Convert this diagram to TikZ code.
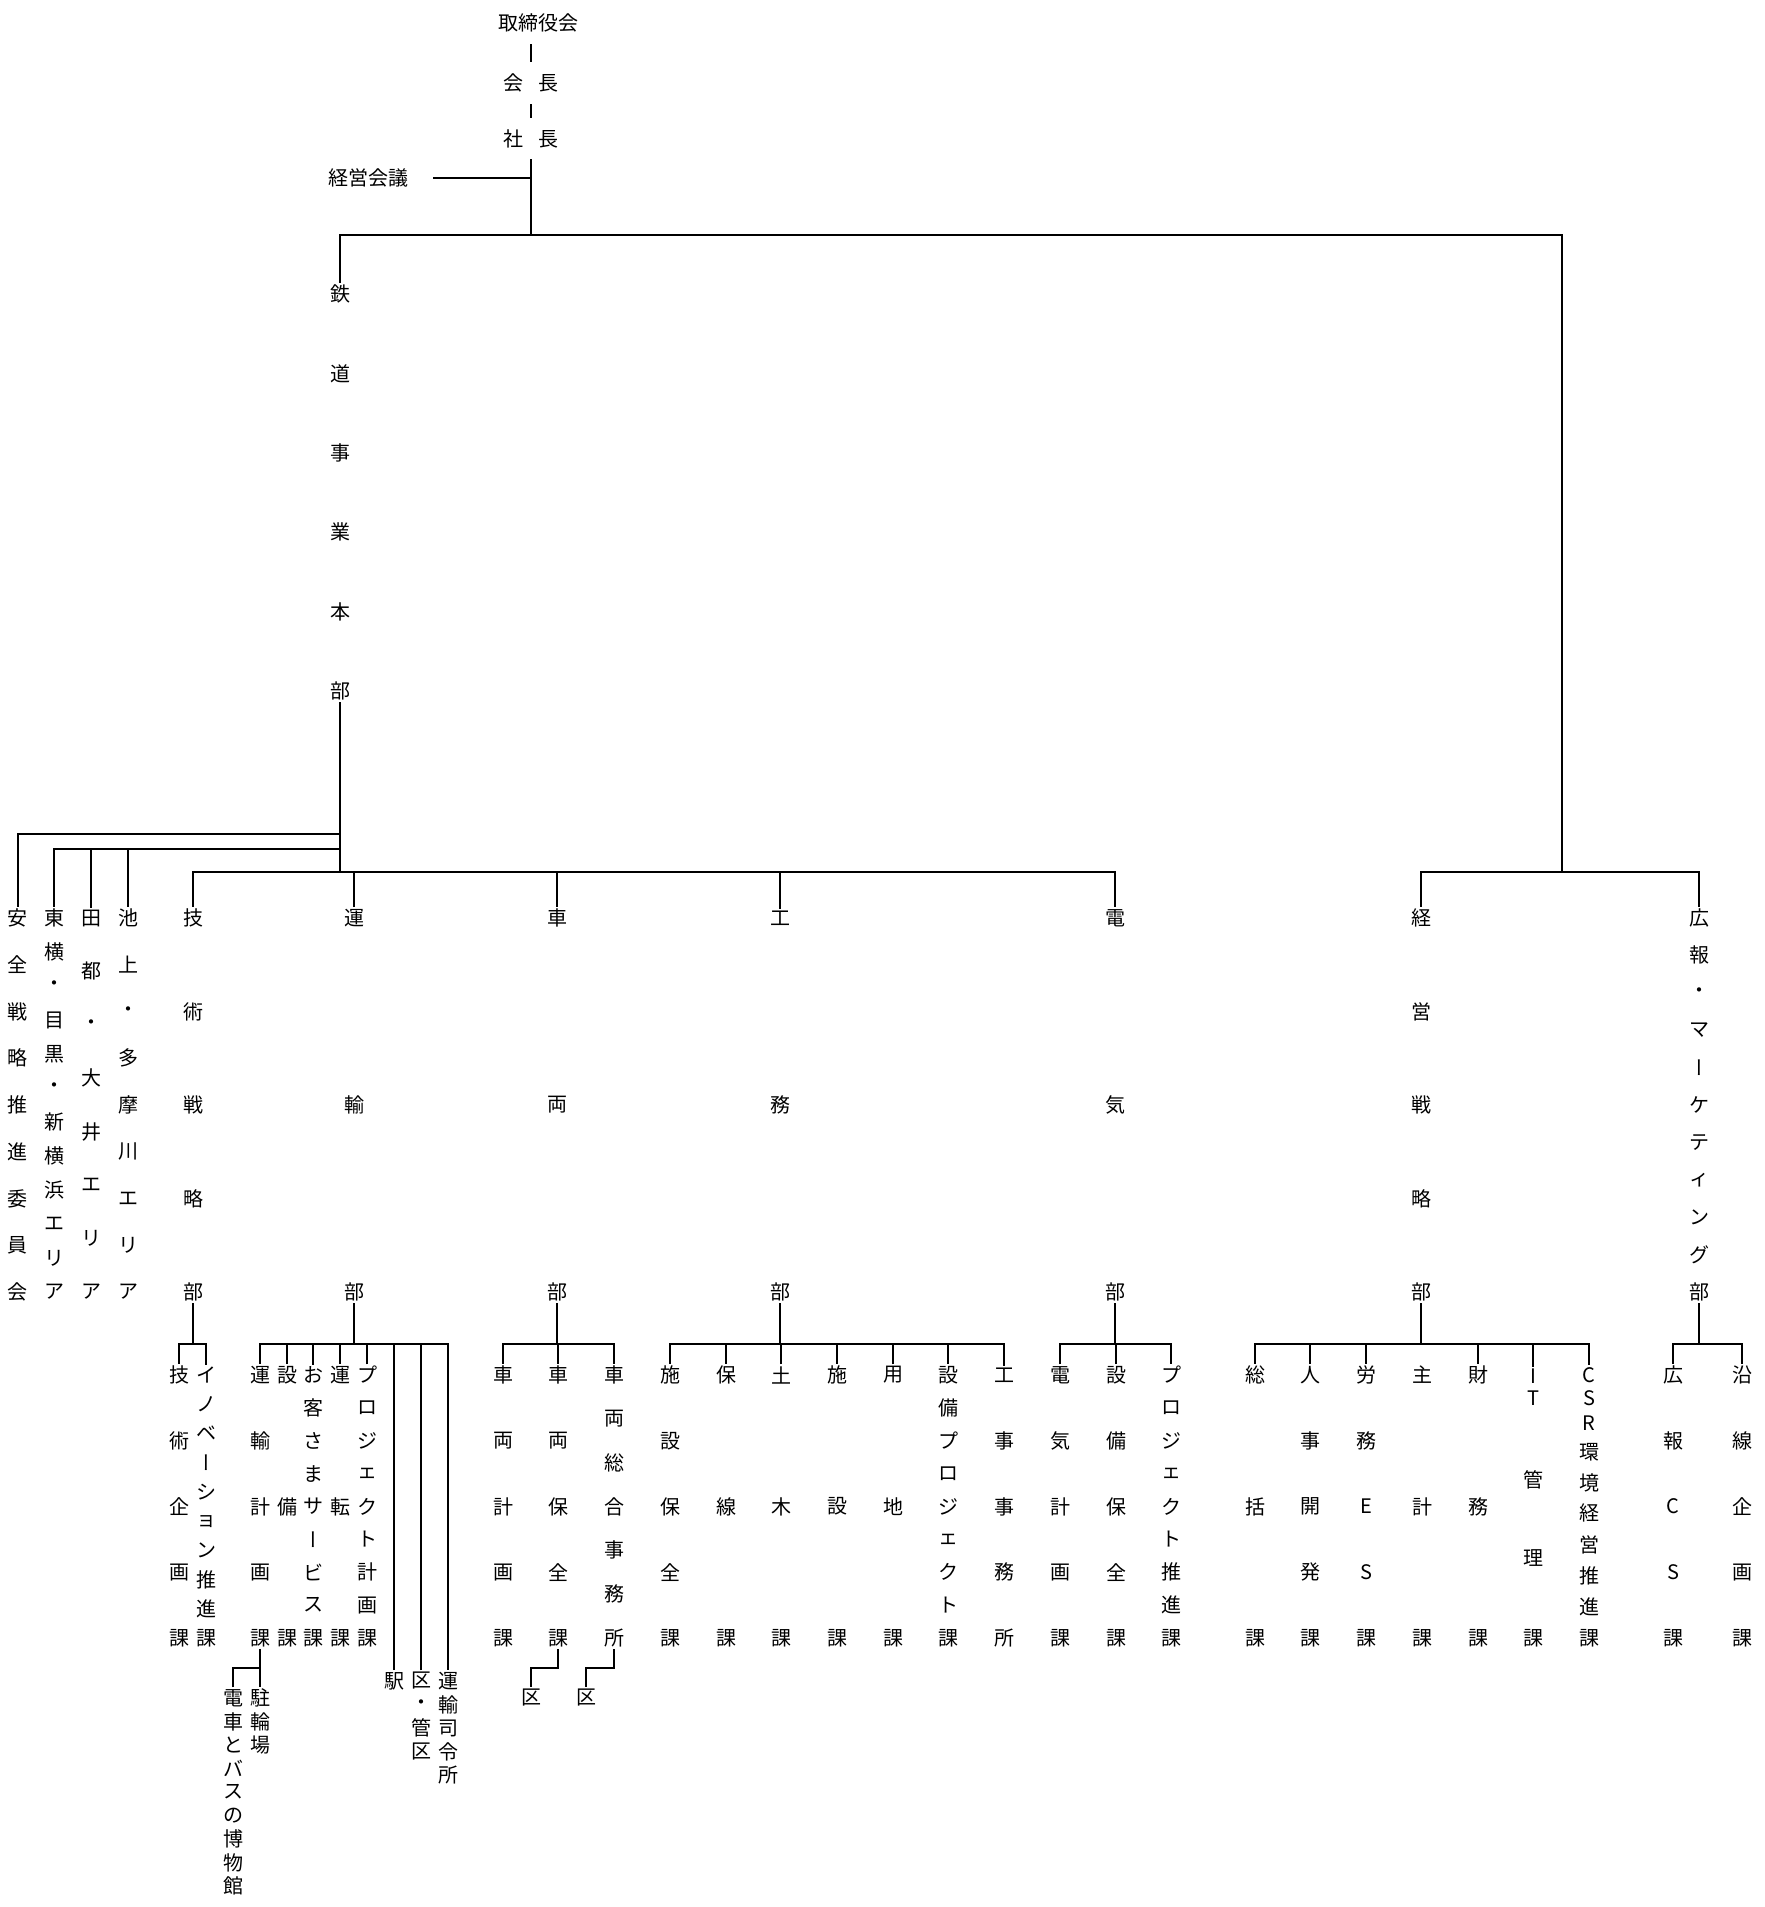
\documentclass[tikz,border=0pt]{standalone}
\usepackage{fontspec}
\setmainfont{Noto Sans CJK JP}
\newfontfamily\vfont[RawFeature=+vert]{Noto Sans CJK JP}
\newcommand\vbar{{\vfont ー}}
% evenly spread vertical text: name, x, ytop, ybottom, count, chars
\newcommand\vjust[6]{\foreach \ch [count=\ci] in {#6}{%
  \pgfmathsetmacro\yy{#3+(\ci-1)*(#4-#3)/(#5-1)}%
  \node[ch] (#1-\ci) at (#2,\yy) {\ch};}}
% vertical text with explicit positions: name, x, y/char list
\newcommand\vlist[3]{\foreach \yy/\ch [count=\ci] in {#3}{%
  \node[ch] (#1-\ci) at (#2,\yy) {\ch};}}
\begin{document}
\begin{tikzpicture}[x=0.5pt,y=-0.5pt,
  ch/.style={inner sep=0pt,outer sep=1pt,font=\fontsize{10pt}{12pt}\selectfont},
  ln/.style={line width=1pt}]
\useasboundingbox (0,0) rectangle (1765,1907);

% ---------- top ----------
\node[ch] (tori) at (538,23) {取締役会};
\node[ch] (kaicho) at (531,83) {会\hspace{7.5pt}長};
\node[ch] (shacho) at (531,139) {社\hspace{7.5pt}長};
\node[ch] (keiei) at (368,178) {経営会議};
\coordinate (jTop) at (531,235);
\coordinate (jR) at (1562,872);
\draw[ln,shorten <=5pt,shorten >=5pt] (kaicho.north |- tori.south) -- (kaicho.north);
\draw[ln,shorten <=5pt,shorten >=5pt] (kaicho.south) -- (shacho.north);
\draw[ln,shorten <=4.5pt] (shacho.south) -- (jTop);
\draw[ln,shorten <=11.5pt] (keiei.east) -- (keiei.east -| jTop);

% ---------- railway HQ ----------
\vjust{tetsudo}{340}{294}{691}{6}{鉄,道,事,業,本,部}
\draw[ln] (tetsudo-1.north) |- (jR |- jTop) -- (jR);

% ---------- level 2 ----------
\vjust{anzen}{18}{918}{1292}{9}{安,全,戦,略,推,進,委,員,会}
\vjust{toyoko}{54}{918}{1292}{12}{東,横,・,目,黒,・,新,横,浜,エ,リ,ア}
\vjust{dento}{91}{918}{1292}{8}{田,都,・,大,井,エ,リ,ア}
\vjust{ikegami}{128}{918}{1292}{9}{池,上,・,多,摩,川,エ,リ,ア}
\vjust{gijutsu}{193}{918}{1292}{5}{技,術,戦,略,部}
\vjust{unyu}{354}{918}{1292}{3}{運,輸,部}
\vjust{sharyo}{557}{918}{1292}{3}{車,両,部}
\vjust{komu}{780}{918}{1292}{3}{工,務,部}
\vjust{denki}{1115}{918}{1292}{3}{電,気,部}
\vjust{keisen}{1421}{918}{1292}{5}{経,営,戦,略,部}
\vjust{koho}{1699}{918}{1292}{11}{広,報,・,マ,\vbar,ケ,テ,ィ,ン,グ,部}

\coordinate (j2a) at (341,834);
\coordinate (j2b) at (340,849);
\coordinate (j2c) at (340,872);
\draw[ln] (tetsudo-6.south) -- (j2c);
\draw[ln] (anzen-1.north) |- (j2a);
\draw[ln] (toyoko-1.north) |- (j2b);
\draw[ln] (dento-1.north) -- (dento-1.north |- j2b);
\draw[ln] (ikegami-1.north) -- (ikegami-1.north |- j2b);
\draw[ln] (gijutsu-1.north) |- (denki-1.north |- j2c) -- (denki-1.north);
\draw[ln] (unyu-1.north) -- (unyu-1.north |- j2c);
\draw[ln] (sharyo-1.north) -- (sharyo-1.north |- j2c);
\draw[ln] (komu-1.north) -- (komu-1.north |- j2c);
\draw[ln] (keisen-1.north) |- (koho-1.north |- jR) -- (koho-1.north);

% ---------- level 3 ----------
\coordinate (r3) at (0,1344);
\coordinate (r4) at (0,1668);

% 技術戦略部
\vjust{gkikaku}{179}{1375}{1638}{5}{技,術,企,画,課}
\vjust{inov}{206}{1375}{1638}{10}{イ,ノ,ベ,\vbar,シ,ョ,ン,推,進,課}
\draw[ln] (gijutsu-5.south) -- (gijutsu-5.south |- r3);
\draw[ln] (gkikaku-1.north) |- (inov-1.north |- r3) -- (inov-1.north);

% 運輸部
\vjust{unkei}{260}{1375}{1638}{5}{運,輸,計,画,課}
\vjust{setsubi}{287}{1375}{1638}{3}{設,備,課}
\vjust{okyaku}{313}{1375}{1638}{9}{お,客,さ,ま,サ,\vbar,ビ,ス,課}
\vjust{unten}{340}{1375}{1638}{3}{運,転,課}
\vjust{ukeikaku}{367}{1375}{1638}{9}{プ,ロ,ジ,ェ,ク,ト,計,画,課}
\node[ch] (eki) at (394,1681) {駅};
\vjust{ku}{421}{1681}{1752}{4}{区,・,管,区}
\vjust{shirei}{448}{1681}{1775}{5}{運,輸,司,令,所}
\draw[ln] (unyu-3.south) -- (unyu-3.south |- r3);
\draw[ln] (unkei-1.north) |- (shirei-1.north |- r3) -- (shirei-1.north);
\draw[ln] (setsubi-1.north) -- (setsubi-1.north |- r3);
\draw[ln] (okyaku-1.north) -- (okyaku-1.north |- r3);
\draw[ln] (unten-1.north) -- (unten-1.north |- r3);
\draw[ln] (ukeikaku-1.north) -- (ukeikaku-1.north |- r3);
\draw[ln] (eki.north) -- (eki.north |- r3);
\draw[ln] (ku-1.north) -- (ku-1.north |- r3);

% 運輸計画課 sub
\vjust{hakubutsu}{233}{1698}{1886}{9}{電,車,と,バ,ス,の,博,物,館}
\vjust{churin}{260}{1698}{1745}{3}{駐,輪,場}
\draw[ln] (unkei-5.south) -- (unkei-5.south |- r4);
\draw[ln] (hakubutsu-1.north) |- (churin-1.north |- r4) -- (churin-1.north);

% 車両部
\vjust{skeikaku}{503}{1375}{1638}{5}{車,両,計,画,課}
\vjust{shozen}{558}{1375}{1638}{5}{車,両,保,全,課}
\vjust{ssogo}{614}{1375}{1638}{7}{車,両,総,合,事,務,所}
\node[ch] (kuA) at (531,1698) {区};
\node[ch] (kuB) at (586,1698) {区};
\draw[ln] (sharyo-3.south) -- (sharyo-3.south |- r3);
\draw[ln] (skeikaku-1.north) |- (ssogo-1.north |- r3) -- (ssogo-1.north);
\draw[ln] (shozen-1.north) -- (shozen-1.north |- r3);
\draw[ln] (shozen-5.south) |- (kuA.north |- r4) -- (kuA.north);
\draw[ln] (ssogo-7.south) |- (kuB.north |- r4) -- (kuB.north);

% 工務部
\vjust{shhozen}{670}{1375}{1638}{5}{施,設,保,全,課}
\vjust{hosen}{726}{1375}{1638}{3}{保,線,課}
\vjust{doboku}{781}{1375}{1638}{3}{土,木,課}
\vjust{shisetsu}{837}{1375}{1638}{3}{施,設,課}
\vjust{yochi}{893}{1375}{1638}{3}{用,地,課}
\vjust{setsupj}{948}{1375}{1638}{9}{設,備,プ,ロ,ジ,ェ,ク,ト,課}
\vjust{koji}{1004}{1375}{1638}{5}{工,事,事,務,所}
\draw[ln] (komu-3.south) -- (komu-3.south |- r3);
\draw[ln] (shhozen-1.north) |- (koji-1.north |- r3) -- (koji-1.north);
\draw[ln] (hosen-1.north) -- (hosen-1.north |- r3);
\draw[ln] (doboku-1.north) -- (doboku-1.north |- r3);
\draw[ln] (shisetsu-1.north) -- (shisetsu-1.north |- r3);
\draw[ln] (yochi-1.north) -- (yochi-1.north |- r3);
\draw[ln] (setsupj-1.north) -- (setsupj-1.north |- r3);

% 電気部
\vjust{dkeikaku}{1060}{1375}{1638}{5}{電,気,計,画,課}
\vjust{dhozen}{1116}{1375}{1638}{5}{設,備,保,全,課}
\vjust{dpj}{1171}{1375}{1638}{9}{プ,ロ,ジ,ェ,ク,ト,推,進,課}
\draw[ln] (denki-3.south) -- (denki-3.south |- r3);
\draw[ln] (dkeikaku-1.north) |- (dpj-1.north |- r3) -- (dpj-1.north);
\draw[ln] (dhozen-1.north) -- (dhozen-1.north |- r3);

% 経営戦略部
\vjust{sokatsu}{1255}{1375}{1638}{3}{総,括,課}
\vjust{jinji}{1310}{1375}{1638}{5}{人,事,開,発,課}
\vjust{romu}{1366}{1375}{1638}{5}{労,務,E,S,課}
\vjust{shukei}{1422}{1375}{1638}{3}{主,計,課}
\vjust{zaimu}{1478}{1375}{1638}{3}{財,務,課}
\vlist{itk}{1533}{1376/I,1398/T,1480/管,1558/理,1638/課}
\vlist{csr}{1589}{1375/C,1398/S,1423/R,1452/環,1483/境,1513/経,1545/営,1576/推,1607/進,1638/課}
\draw[ln] (keisen-5.south) -- (keisen-5.south |- r3);
\draw[ln] (sokatsu-1.north) |- (csr-1.north |- r3) -- (csr-1.north);
\draw[ln] (jinji-1.north) -- (jinji-1.north |- r3);
\draw[ln] (romu-1.north) -- (romu-1.north |- r3);
\draw[ln] (zaimu-1.north) -- (zaimu-1.north |- r3);
\draw[ln] (itk-1.north) -- (itk-1.north |- r3);

% 広報・マーケティング部
\vjust{kohocs}{1673}{1375}{1638}{5}{広,報,C,S,課}
\vjust{ensen}{1742}{1375}{1638}{5}{沿,線,企,画,課}
\draw[ln] (koho-11.south) -- (koho-11.south |- r3);
\draw[ln] (kohocs-1.north) |- (ensen-1.north |- r3) -- (ensen-1.north);
\end{tikzpicture}
\end{document}
